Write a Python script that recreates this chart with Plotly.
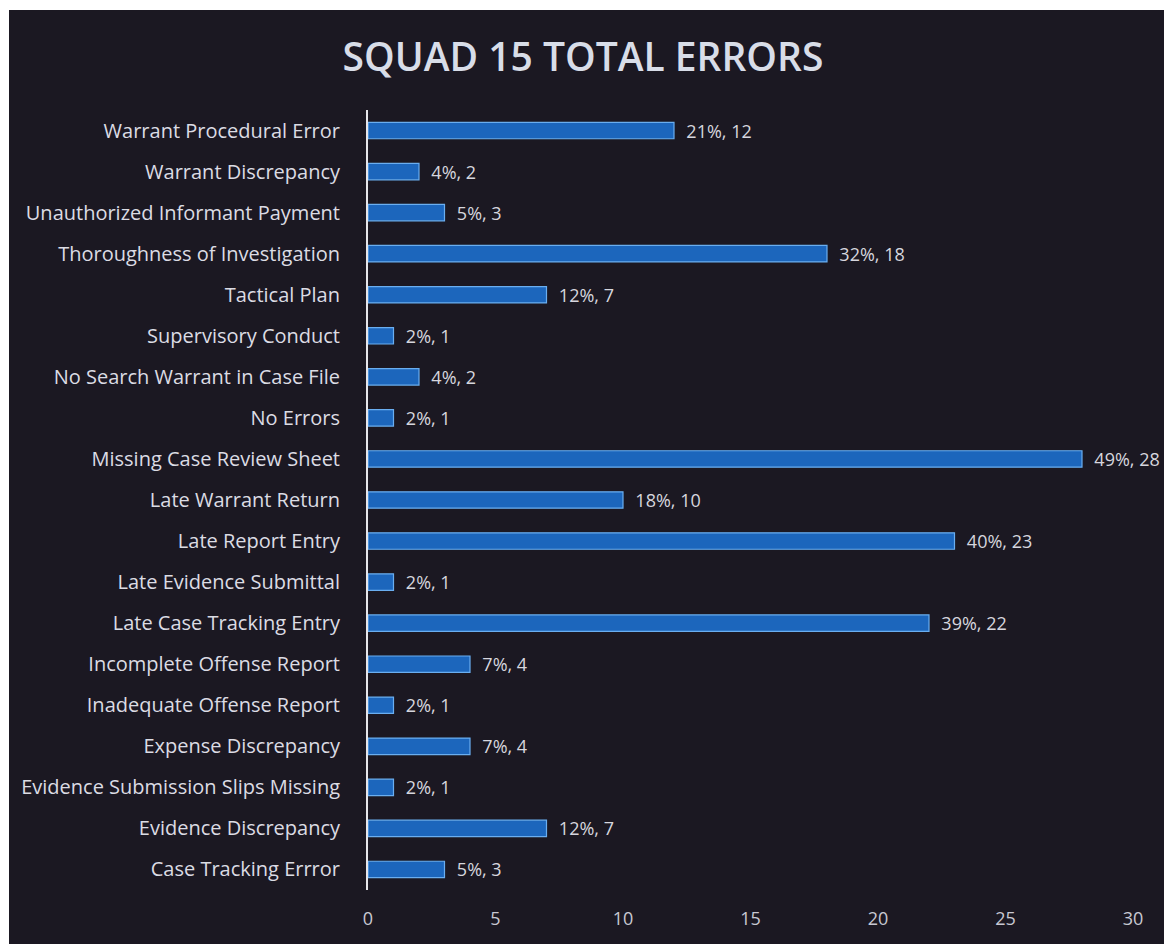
import plotly.graph_objects as go

categories = [
    "Warrant Procedural Error",
    "Warrant Discrepancy",
    "Unauthorized Informant Payment",
    "Thoroughness of Investigation",
    "Tactical Plan",
    "Supervisory Conduct",
    "No Search Warrant in Case File",
    "No Errors",
    "Missing Case Review Sheet",
    "Late Warrant Return",
    "Late Report Entry",
    "Late Evidence Submittal",
    "Late Case Tracking Entry",
    "Incomplete Offense Report",
    "Inadequate Offense Report",
    "Expense Discrepancy",
    "Evidence Submission Slips Missing",
    "Evidence Discrepancy",
    "Case Tracking Errror",
]
counts = [12, 2, 3, 18, 7, 1, 2, 1, 28, 10, 23, 1, 22, 4, 1, 4, 1, 7, 3]
percents = [21, 4, 5, 32, 12, 2, 4, 2, 49, 18, 40, 2, 39, 7, 2, 7, 2, 12, 5]
x_ticks = [0, 5, 10, 15, 20, 25, 30]

labels = [f"{p}%, {c}" for p, c in zip(percents, counts)]
BG = "#1b1822"
FONT = "Open Sans"

fig = go.Figure(
    go.Bar(
        x=counts,
        y=categories,
        orientation="h",
        text=labels,
        texttemplate="\u00a0\u00a0%{text}",
        textposition="outside",
        constraintext="none",
        cliponaxis=False,
        textfont=dict(family=FONT, size=18, color="#d6d6de"),
        marker=dict(color="#1c66bc", line=dict(color="#6aaef0", width=1.2)),
    )
)

fig.update_layout(
    width=1164,
    height=944,
    paper_bgcolor="white",
    plot_bgcolor=BG,
    margin=dict(l=368, r=31, t=110, b=54),
    bargap=0.6,
    showlegend=False,
    title=dict(
        text="SQUAD 15 TOTAL ERRORS",
        x=583 / 1164,
        xanchor="center",
        y=1 - 57 / 944,
        yanchor="middle",
        yref="container",
        font=dict(family=FONT, size=39, color="#d8dde8", weight=600),
    ),
    shapes=[
        dict(
            type="rect", xref="paper", yref="paper", layer="below",
            x0=-359 / 765, x1=1.1, y0=-0.2, y1=1 + 100 / 780,
            fillcolor=BG, line=dict(width=0),
        )
    ],
)

fig.update_xaxes(
    range=[0, 30],
    tickvals=x_ticks,
    showgrid=False,
    zeroline=False,
    showline=False,
    tickfont=dict(family=FONT, size=18, color="#c8c8d2"),
    ticklabelstandoff=16,
)
fig.update_yaxes(
    autorange="reversed",
    showgrid=False,
    showline=True,
    linecolor="#e6e6ea",
    linewidth=2,
    ticks="",
    tickfont=dict(family=FONT, size=20, color="#dcdce4"),
    ticklabelstandoff=22,
)

fig.write_html(
    "out.html",
    config={"displayModeBar": False},
    post_script="document.body.style.margin='0';document.body.style.overflow='hidden';",
)
